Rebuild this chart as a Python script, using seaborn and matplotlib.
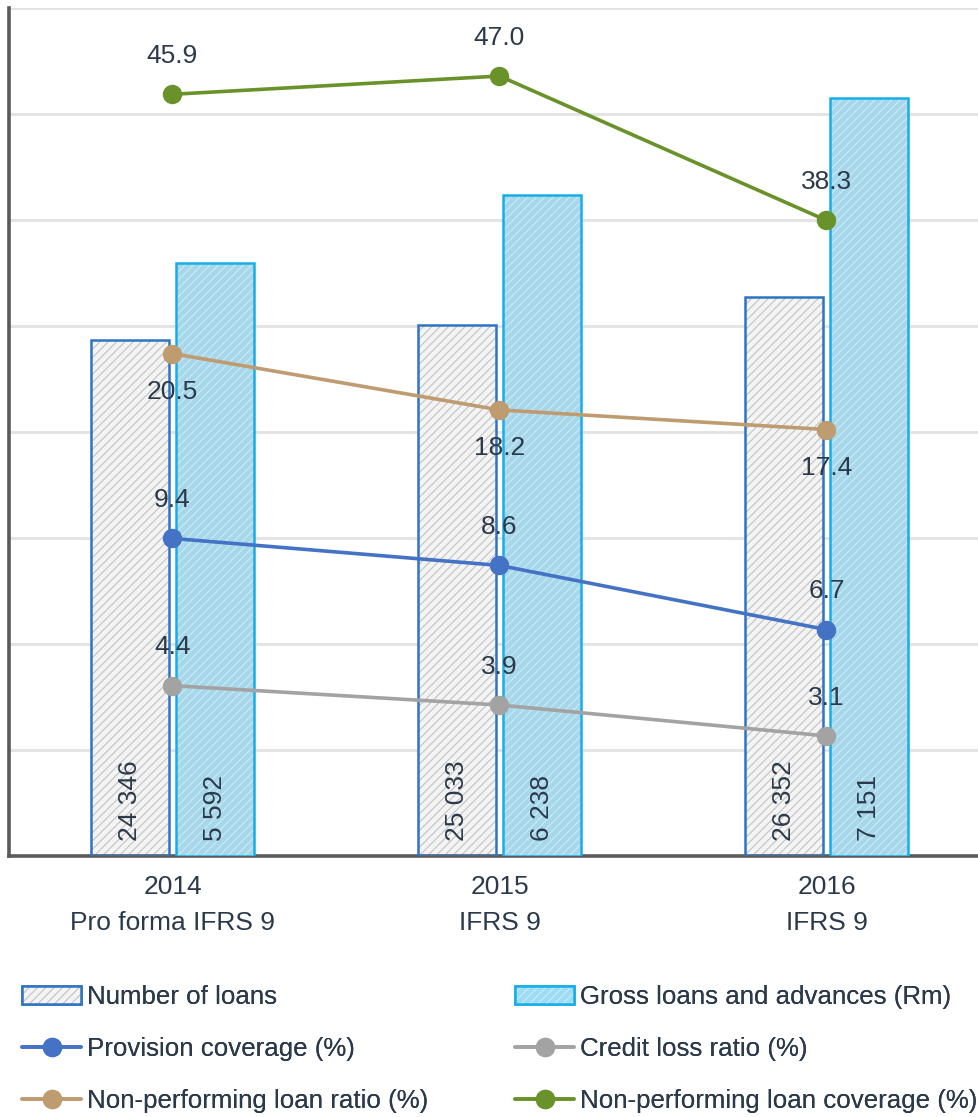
import numpy as np
import pandas as pd
import matplotlib
matplotlib.use("Agg")
import matplotlib.pyplot as plt
import seaborn as sns
from matplotlib.patches import Patch
from matplotlib.lines import Line2D
from matplotlib.legend_handler import HandlerTuple

# ---- data -------------------------------------------------------------
periods = ["2014\nPro forma IFRS 9", "2015\nIFRS 9", "2016\nIFRS 9"]
number_of_loans = [24346, 25033, 26352]
gross_loans = [5592, 6238, 7151]
provision_coverage = [9.4, 8.6, 6.7]
credit_loss_ratio = [4.4, 3.9, 3.1]
npl_ratio = [20.5, 18.2, 17.4]
npl_coverage = [45.9, 47.0, 38.3]

bar_series = ["Number of loans", "Gross loans and advances (Rm)"]
line_series = ["Provision coverage (%)", "Credit loss ratio (%)",
               "Non-performing loan ratio (%)", "Non-performing loan coverage (%)"]

# ---- style ------------------------------------------------------------
sns.set_theme(style="white")
plt.rcParams["font.family"] = ["Liberation Sans", "DejaVu Sans"]
plt.rcParams["hatch.linewidth"] = 0.8

TEXT = "#2b3a4b"
FS = 19
LEG_FS = 18.6
fill_colors = {bar_series[0]: "#f4f4f4", bar_series[1]: "#9edcf5"}
hatch_colors = {bar_series[0]: "#c2c2c2", bar_series[1]: "#c6ecfa"}
edge_colors = {bar_series[0]: "#2e74c4", bar_series[1]: "#16aee8"}
line_colors = {line_series[0]: "#4472c4", line_series[1]: "#a3a3a3",
               line_series[2]: "#bf9c70", line_series[3]: "#6a922a"}
# each line is drawn against its own value axis (upper limit per series)
line_axis_top = {line_series[0]: 25.1, line_series[1]: 21.9,
                 line_series[2]: 34.6, line_series[3]: 51.1}
label_side = {line_series[0]: 1, line_series[1]: 1,
              line_series[2]: -1, line_series[3]: 1}

fig = plt.figure(figsize=(9.79, 11.17), dpi=100)
ax = fig.add_axes([9 / 979, 261 / 1117, 981 / 979, 848 / 1117])
ax_gross = ax.twinx()

bar_frames = [
    pd.DataFrame({"period": periods, "value": number_of_loans, "series": bar_series[0]}),
    pd.DataFrame({"period": periods, "value": gross_loans, "series": bar_series[1]}),
]
bar_axes = [ax, ax_gross]

filled_bars = []
for frame, bax in zip(bar_frames, bar_axes):
    name = frame["series"].iloc[0]
    n_before = len(bax.patches)
    # hatched fill (hatch colour follows the edge colour, so outline drawn separately)
    sns.barplot(data=frame, x="period", y="value", hue="series", hue_order=bar_series,
                order=periods, palette=fill_colors, width=0.52, gap=0.09, dodge=True,
                edgecolor=hatch_colors[name], linewidth=0, hatch="////",
                legend=False, ax=bax, zorder=2)
    filled_bars.append(sorted(bax.patches[n_before:], key=lambda p: p.get_x()))
    # crisp outline
    sns.barplot(data=frame, x="period", y="value", hue="series", hue_order=bar_series,
                order=periods, palette=edge_colors, width=0.52, gap=0.09, dodge=True,
                fill=False, linewidth=1.8, legend=False, ax=bax, zorder=3)

ax.set_ylim(0, 40000)
ax_gross.set_ylim(0, 8000)

# value labels at the foot of each bar
for frame, bax, bars in zip(bar_frames, bar_axes, filled_bars):
    for p, v in zip(bars, frame["value"]):
        bax.annotate(f"{v:,}".replace(",", " "),
                     (p.get_x() + p.get_width() / 2, 0),
                     xytext=(0, 11), textcoords="offset points",
                     rotation=90, ha="center", va="bottom",
                     fontsize=FS, color=TEXT, zorder=5)

# ---- lines --------------------------------------------------------------
x_pos = np.arange(len(periods))
line_values = {line_series[0]: provision_coverage, line_series[1]: credit_loss_ratio,
               line_series[2]: npl_ratio, line_series[3]: npl_coverage}
line_axes = []
for name in line_series:
    lax = ax.twinx()
    vals = line_values[name]
    sns.lineplot(x=x_pos, y=vals, ax=lax, color=line_colors[name], linewidth=2.6,
                 marker="o", markersize=14, markeredgewidth=0)
    lax.set_ylim(0, line_axis_top[name])
    for xi, v in zip(x_pos, vals):
        lax.annotate(f"{v:.1f}", (xi, v), xytext=(0, 27.5 * label_side[name]),
                     textcoords="offset points", ha="center", va="center",
                     fontsize=FS, color=TEXT)
    line_axes.append(lax)

# ---- axes cosmetics ---------------------------------------------------
for tax in [ax_gross] + line_axes:
    tax.set_yticks([])
    tax.set_ylabel("")
    tax.set_xlabel("")
    for s in tax.spines.values():
        s.set_visible(False)

ax.set_xlim(-0.5, 2.5)
ax.set_yticks(np.arange(0, 40001, 5000))
ax.set_yticklabels([])
ax.yaxis.grid(True, color="#e4e4e4", linewidth=2.2)
ax.xaxis.grid(False)
ax.set_axisbelow(True)
ax.set_ylabel("")
ax.set_xlabel("")
ax.set_xticks(x_pos)
ax.set_xticklabels(periods, fontsize=FS, color=TEXT, linespacing=1.6)
ax.tick_params(axis="x", length=0, pad=14)
ax.tick_params(axis="y", length=0)
for side in ["top", "right"]:
    ax.spines[side].set_visible(False)
for side in ["left", "bottom"]:
    ax.spines[side].set_color("#5a5a5a")
    ax.spines[side].set_linewidth(2.6)

# ---- legend -------------------------------------------------------------
def bar_handle(name):
    return (Patch(facecolor=fill_colors[name], edgecolor=hatch_colors[name],
                  linewidth=0, hatch="////"),
            Patch(facecolor="none", edgecolor=edge_colors[name], linewidth=1.8))

def line_handle(name):
    return Line2D([], [], color=line_colors[name], linewidth=2.6, marker="o",
                  markersize=14, markeredgewidth=0)

columns = [
    ([bar_handle(bar_series[0]), line_handle(line_series[0]), line_handle(line_series[2])],
     [bar_series[0], line_series[0], line_series[2]], 22),
    ([bar_handle(bar_series[1]), line_handle(line_series[1]), line_handle(line_series[3])],
     [bar_series[1], line_series[1], line_series[3]], 515),
]
for handles, labels, x0 in columns:
    leg = fig.legend(handles, labels, loc="center left",
                     bbox_to_anchor=(x0 / 979, (1117 - 1049) / 1117),
                     frameon=False, fontsize=LEG_FS, labelcolor=TEXT,
                     handlelength=2.3, handleheight=0.7, handletextpad=0.2,
                     labelspacing=1.1, borderpad=0, borderaxespad=0,
                     handler_map={tuple: HandlerTuple(ndivide=1, pad=0)})
    fig.add_artist(leg)

fig.savefig("out.png", dpi=100)
